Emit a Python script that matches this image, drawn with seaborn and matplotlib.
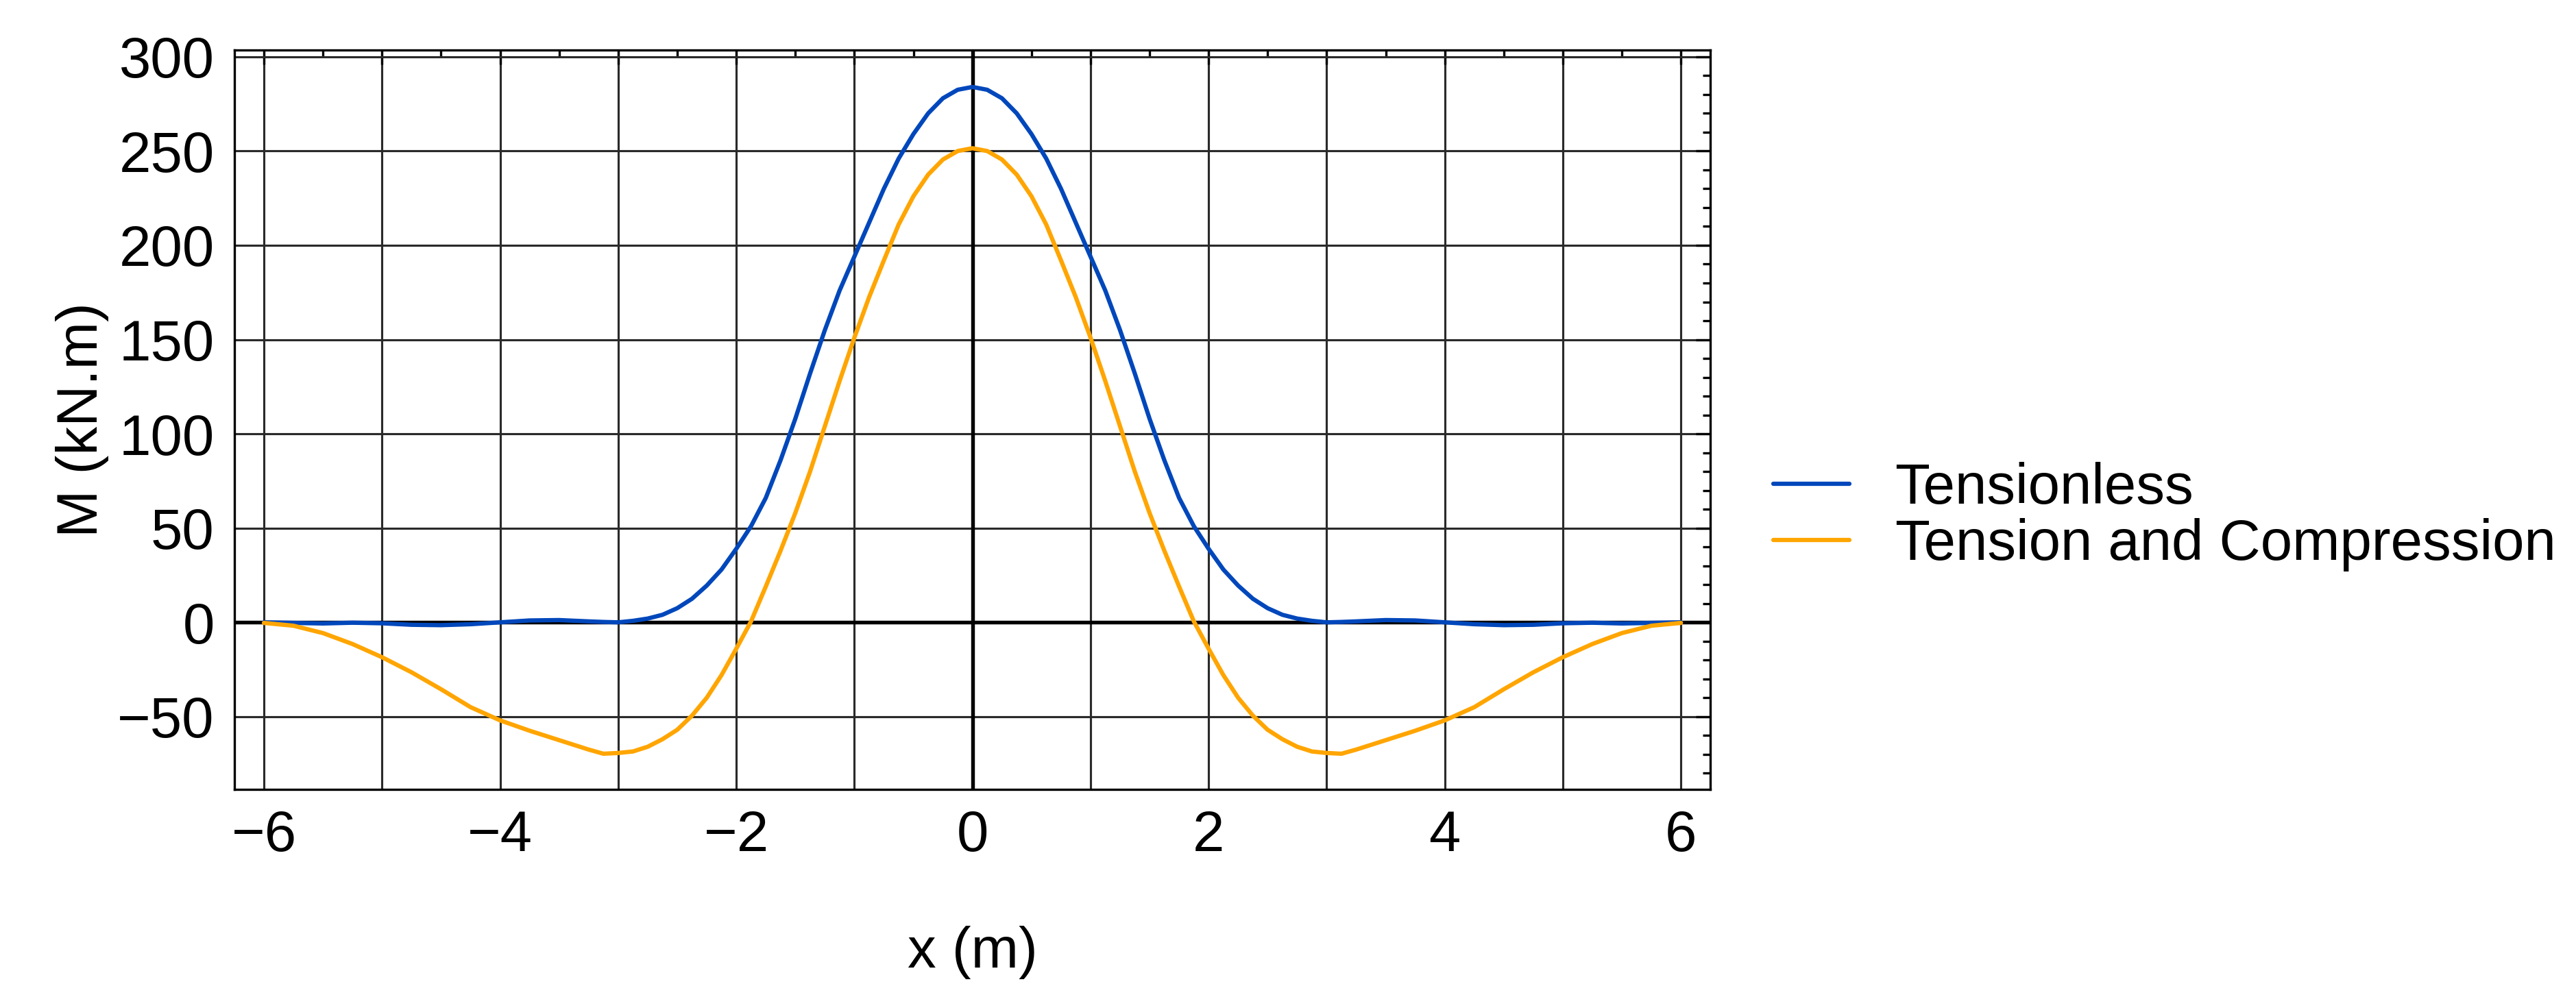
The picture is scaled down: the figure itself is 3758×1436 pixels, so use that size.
import numpy as np
import pandas as pd
import matplotlib
matplotlib.use("Agg")
import matplotlib.pyplot as plt
from matplotlib.ticker import MultipleLocator, FuncFormatter
import seaborn as sns

sns.set_style("white")
plt.rcParams['font.family'] = ['Liberation Sans', 'DejaVu Sans']
plt.rcParams['text.color'] = 'black'
plt.rcParams['axes.labelcolor'] = 'black'

# values, x in m, M in kN.m
x = [-6.0, -5.75, -5.5, -5.25, -5.0, -4.75, -4.5, -4.25, -4.0, -3.75, -3.5, -3.25,
     -3.125, -3.0, -2.875, -2.75, -2.625, -2.5, -2.375, -2.25, -2.125, -2.0,
     -1.875, -1.75, -1.625, -1.5, -1.375, -1.25, -1.125, -1.0, -0.875, -0.75,
     -0.625, -0.5, -0.375, -0.25, -0.125,
     0.0,
     0.125, 0.25, 0.375, 0.5, 0.625, 0.75, 0.875, 1.0, 1.125, 1.25, 1.375,
     1.5, 1.625, 1.75, 1.875, 2.0, 2.125, 2.25, 2.375, 2.5, 2.625, 2.75, 2.875,
     3.0, 3.125, 3.25, 3.5, 3.75, 4.0, 4.25, 4.5, 4.75, 5.0, 5.25, 5.5, 5.75, 6.0]

tensionless = [0, -0.3, -0.6, -0.2, -0.5, -1.3, -1.5, -1, 0, 1, 1.2, 0.5,
               0.2, 0, 0.8, 2, 4, 7.5, 12.5, 19.5, 28, 39,
               51, 66, 86, 108, 132, 155, 176, 194, 212, 230,
               246, 259, 270, 278, 282.5,
               284,
               282.5, 278, 270, 259, 246, 230, 212, 194, 176, 155, 132,
               108, 86, 66, 51, 39, 28, 19.5, 12.5, 7.5, 4, 2, 0.8,
               0, 0.2, 0.5, 1.2, 1, 0, -1, -1.5, -1.3, -0.5, -0.2, -0.6, -0.3, 0]

tension_compression = [-0.3, -1.8, -5.7, -11.5, -18.5, -26.5, -35.5, -45, -52, -57.5, -62.5, -67.5,
                       -69.7, -69.3, -68.5, -66, -62, -57, -49.5, -40, -28, -14,
                       0.5, 19, 38, 58, 80, 104, 128, 151, 172.5, 192,
                       211, 226, 237.5, 245.5, 250,
                       251.5,
                       250, 245.5, 237.5, 226, 211, 192, 172.5, 151, 128, 104, 80,
                       58, 38, 19, 0.5, -14, -28, -40, -49.5, -57, -62, -66, -68.5,
                       -69.3, -69.7, -67.5, -62.5, -57.5, -52, -45, -35.5, -26.5, -18.5, -11.5, -5.7, -1.8, -0.3]

series = ["Tensionless", "Tension and Compression"]
colors = ["#0047BB", "#FFA500"]

df = pd.DataFrame({
    "x": x * 2,
    "M": tensionless + tension_compression,
    "case": [series[0]] * len(x) + [series[1]] * len(x),
})

fig = plt.figure(figsize=(3758 / 300, 1436 / 300), dpi=300)
ax = fig.add_axes([0.091, 0.198, 0.573, 0.751])

# grid and zero axes first, curves on top
ax.set_axisbelow(True)
ax.grid(True, which="major", color="#2a2a2a", linewidth=0.75)
ax.axhline(0, color="black", linewidth=1.3, zorder=1.5)
ax.axvline(0, color="black", linewidth=1.3, zorder=1.5)

sns.lineplot(data=df, x="x", y="M", hue="case", palette=colors,
             linewidth=1.5, ax=ax, legend=True, zorder=3)

ax.set_xlim(-6.25, 6.25)
ax.set_ylim(-88.5, 303.5)

ax.xaxis.set_major_locator(MultipleLocator(1))
ax.xaxis.set_minor_locator(MultipleLocator(0.5))
ax.xaxis.set_major_formatter(FuncFormatter(
    lambda v, p: ("%d" % round(v)).replace("-", "\u2212") if round(v) % 2 == 0 else ""))
ax.yaxis.set_major_locator(MultipleLocator(50))
ax.yaxis.set_minor_locator(MultipleLocator(10))
ax.yaxis.set_major_formatter(FuncFormatter(
    lambda v, p: ("%d" % round(v)).replace("-", "\u2212")))

ax.tick_params(which="both", direction="in", top=True, right=True,
               colors="black", labelsize=20, width=0.8)
ax.tick_params(which="major", length=5, pad=7)
ax.tick_params(which="minor", length=2.6)

for s in ax.spines.values():
    s.set_color("black")
    s.set_linewidth(0.8)

ax.set_xlabel("x (m)", fontsize=20, labelpad=22)
ax.set_ylabel("M (kN.m)", fontsize=20, labelpad=3)

handles, labels = ax.get_legend_handles_labels()
ax.legend(handles, labels, loc="center left", bbox_to_anchor=(0.6884, 0.475),
          bbox_transform=fig.transFigure, frameon=False, fontsize=20,
          handlelength=1.33, handletextpad=0.8, labelspacing=0.05,
          borderpad=0, borderaxespad=0)

fig.savefig("out.png", dpi=300)
